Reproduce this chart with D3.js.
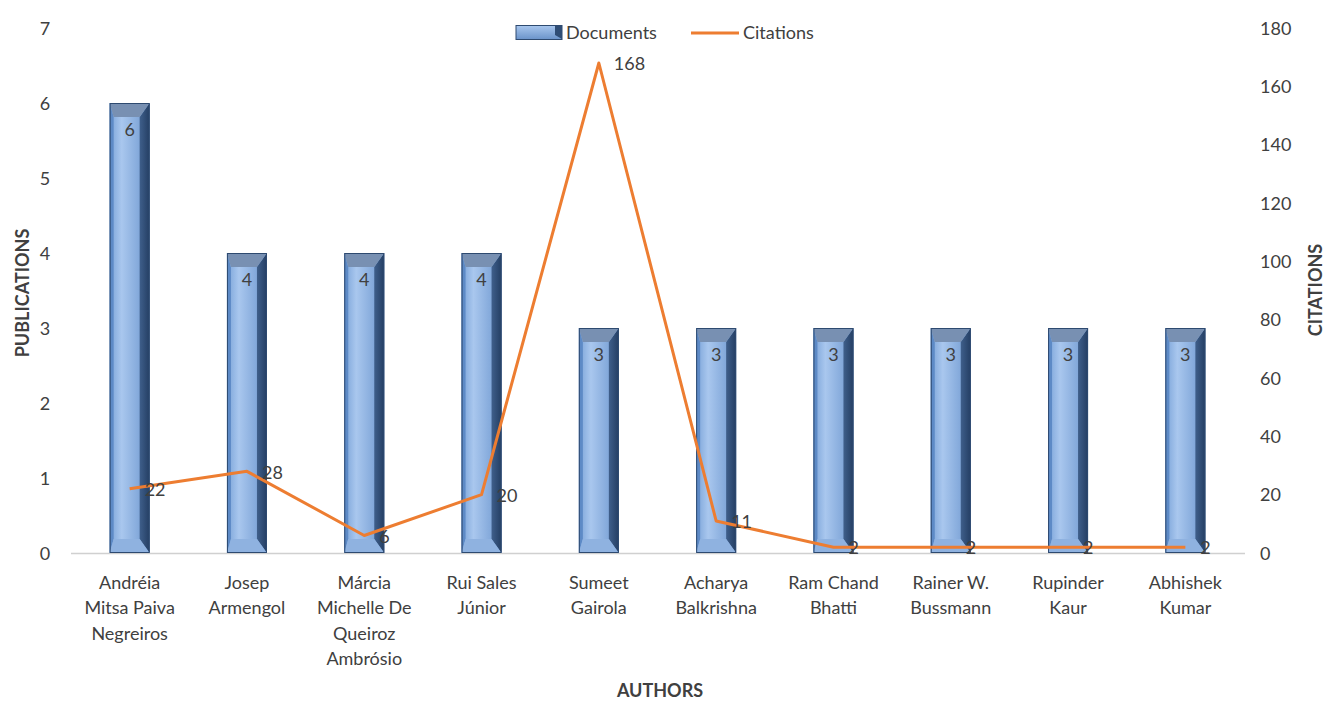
<!DOCTYPE html>
<html>
<head>
<meta charset="utf-8">
<script src="https://cdn.jsdelivr.net/npm/d3@7/dist/d3.min.js"></script>
<style>
  html, body { margin: 0; padding: 0; background: #fff; }
  svg text { font-family: Lato, "Open Sans", sans-serif; fill: #404040; }
</style>
</head>
<body>
<svg id="chart" width="1327" height="702"></svg>
<script>
// Top authors: number of documents and citations
const authors = [
  ["Andréia", "Mitsa Paiva", "Negreiros"],
  ["Josep", "Armengol"],
  ["Márcia", "Michelle De", "Queiroz", "Ambrósio"],
  ["Rui Sales", "Júnior"],
  ["Sumeet", "Gairola"],
  ["Acharya", "Balkrishna"],
  ["Ram Chand", "Bhatti"],
  ["Rainer W.", "Bussmann"],
  ["Rupinder", "Kaur"],
  ["Abhishek", "Kumar"]
];
const documents = [6, 4, 4, 4, 3, 3, 3, 3, 3, 3];
const citations = [22, 28, 6, 20, 168, 11, 2, 2, 2, 2];
const leftTicks = [0, 1, 2, 3, 4, 5, 6, 7];
const rightTicks = [0, 20, 40, 60, 80, 100, 120, 140, 160, 180];

const svg = d3.select("#chart");
const plot = { left: 71, right: 1244, top: 28, bottom: 553 };
const barW = 40;
const fs = "18px";

const x = d3.scaleBand()
  .domain(d3.range(authors.length))
  .range([plot.left, plot.right]);
const yL = d3.scaleLinear().domain([0, 7]).range([plot.bottom, plot.top]);
const yR = d3.scaleLinear().domain([0, 180]).range([plot.bottom, plot.top]);
const cx = i => x(i) + x.bandwidth() / 2;

// gradients for the bevelled bars
const defs = svg.append("defs");
const face = defs.append("linearGradient").attr("id", "face").attr("x1", 0).attr("x2", 1).attr("y1", 0).attr("y2", 0);
face.append("stop").attr("offset", "0%").attr("stop-color", "#7aa3d8");
face.append("stop").attr("offset", "30%").attr("stop-color", "#a9c7ee");
face.append("stop").attr("offset", "70%").attr("stop-color", "#86abdc");
face.append("stop").attr("offset", "100%").attr("stop-color", "#6a93ca");
const rightG = defs.append("linearGradient").attr("id", "rside").attr("x1", 0).attr("x2", 1).attr("y1", 0).attr("y2", 0);
rightG.append("stop").attr("offset", "0%").attr("stop-color", "#3f5f8b");
rightG.append("stop").attr("offset", "100%").attr("stop-color", "#243e63");
const legG = defs.append("linearGradient").attr("id", "legface").attr("x1", 0).attr("x2", 0).attr("y1", 0).attr("y2", 1);
legG.append("stop").attr("offset", "0%").attr("stop-color", "#a9c7ee");
legG.append("stop").attr("offset", "100%").attr("stop-color", "#6a93ca");

// baseline
svg.append("line")
  .attr("x1", plot.left).attr("x2", plot.right + 1)
  .attr("y1", plot.bottom + 0.5).attr("y2", plot.bottom + 0.5)
  .attr("stroke", "#d0d0d0").attr("stroke-width", 1.5);

// left axis
const axL = svg.append("g")
  .attr("transform", `translate(${plot.left - 18},0)`)
  .call(d3.axisLeft(yL).tickValues(leftTicks).tickFormat(d3.format("d")).tickSize(0).tickPadding(0));
axL.select(".domain").remove();
axL.selectAll("text").style("font-size", fs).attr("fill", "#333").attr("dy", "0.35em").attr("text-anchor", "middle").attr("x", -8);

// right axis
const axR = svg.append("g")
  .attr("transform", `translate(${plot.right + 16},0)`)
  .call(d3.axisRight(yR).tickValues(rightTicks).tickSize(0).tickPadding(0));
axR.select(".domain").remove();
axR.selectAll("text").style("font-size", fs).attr("fill", "#333").attr("dy", "0.35em");

// bars with bevelled edges
const bars = svg.append("g").selectAll("g").data(documents).join("g");
bars.each(function (d, i) {
  const g = d3.select(this);
  const x0 = cx(i) - barW / 2, x1 = cx(i) + barW / 2;
  const y0 = yL(d), y1 = yL(0);
  const bl = 4, br = 10, bt = 14, bb = 14;
  g.append("rect").attr("x", x0).attr("y", y0).attr("width", barW).attr("height", y1 - y0).attr("fill", "url(#face)");
  // right side
  g.append("polygon").attr("points", [[x1, y0], [x1, y1], [x1 - br, y1 - bb], [x1 - br, y0 + bt]].join(" ")).attr("fill", "url(#rside)");
  // left side
  g.append("polygon").attr("points", [[x0, y0], [x0 + bl, y0 + bt], [x0 + bl, y1 - bb], [x0, y1]].join(" ")).attr("fill", "#5d8ac6");
  // top bevel
  g.append("polygon").attr("points", [[x0, y0], [x1, y0], [x1 - br, y0 + bt], [x0 + bl, y0 + bt]].join(" ")).attr("fill", "#7890b2");
  // bottom bevel
  g.append("polygon").attr("points", [[x0 + bl, y1 - bb], [x1 - br, y1 - bb], [x1, y1], [x0, y1]].join(" ")).attr("fill", "#8fb2e0");
  g.append("rect").attr("x", x0 + 0.5).attr("y", y0 + 0.5).attr("width", barW - 1).attr("height", y1 - y0 - 1)
    .attr("fill", "none").attr("stroke", "#2e4a70").attr("stroke-width", 1);
  g.append("text").attr("x", cx(i)).attr("y", y0 + 27).attr("dy", "0.35em").attr("text-anchor", "middle")
    .style("font-size", fs).attr("fill", "#111").text(d);
});

// citations line
const line = d3.line().x((d, i) => cx(i)).y(d => yR(d));
svg.append("path").datum(citations).attr("d", line)
  .attr("fill", "none").attr("stroke", "#ed7d31").attr("stroke-width", 3).attr("stroke-linejoin", "round");

svg.append("g").selectAll("text").data(citations).join("text")
  .attr("x", (d, i) => cx(i) + 15).attr("y", d => yR(d) + 1).attr("dy", "0.35em")
  .style("font-size", fs).attr("fill", "#222").text(d => d);

// category labels
const cats = svg.append("g").selectAll("text").data(authors).join("text")
  .attr("text-anchor", "middle").style("font-size", fs).attr("fill", "#333");
cats.each(function (lines, i) {
  d3.select(this).selectAll("tspan").data(lines).join("tspan")
    .attr("x", cx(i)).attr("y", (l, k) => 589 + k * 25.3).text(l => l);
});

// axis titles
svg.append("text").attr("x", 660).attr("y", 697).attr("text-anchor", "middle")
  .style("font-size", "18px").style("font-weight", "bold").attr("fill", "#111").text("AUTHORS");
svg.append("text").attr("transform", "translate(29,293) rotate(-90)").attr("text-anchor", "middle")
  .style("font-size", "18px").style("font-weight", "bold").attr("fill", "#111").text("PUBLICATIONS");
svg.append("text").attr("transform", "translate(1322,290) rotate(-90)").attr("text-anchor", "middle")
  .style("font-size", "18px").style("font-weight", "bold").attr("fill", "#111").text("CITATIONS");

// legend
const leg = svg.append("g");
leg.append("rect").attr("x", 516).attr("y", 25.5).attr("width", 46).attr("height", 14)
  .attr("fill", "url(#legface)").attr("stroke", "#2e4a70");
leg.append("polygon").attr("points", "555,26 562,26 562,39 555,35").attr("fill", "#2f4d75");
leg.append("text").attr("x", 566).attr("y", 33).attr("dy", "0.35em").style("font-size", fs).attr("fill", "#333").text("Documents");
leg.append("line").attr("x1", 691).attr("x2", 739).attr("y1", 33).attr("y2", 33)
  .attr("stroke", "#ed7d31").attr("stroke-width", 3);
leg.append("text").attr("x", 743).attr("y", 33).attr("dy", "0.35em").style("font-size", fs).attr("fill", "#333").text("Citations");
</script>
</body>
</html>
